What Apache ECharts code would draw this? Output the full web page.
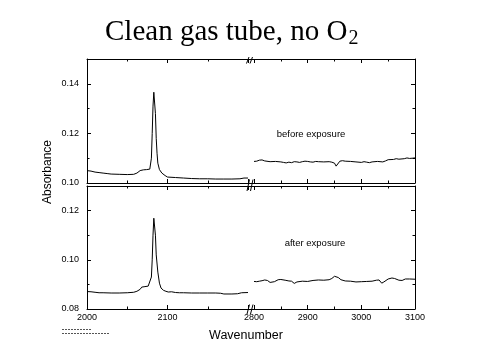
<!DOCTYPE html>
<html><head><meta charset="utf-8">
<script src="https://cdn.jsdelivr.net/npm/echarts@6/dist/echarts.min.js"></script>
<style>html,body{margin:0;padding:0;background:#fff}#c{width:480px;height:360px}</style>
</head><body><div id="c"></div>
<script>
// ---- text ----
const titleMain = 'Clean gas tube, no O';
const titleSub = '2';
const yAxisTitle = 'Absorbance';
const xAxisTitle = 'Wavenumber';
const topNote = 'before exposure';
const bottomNote = 'after exposure';

// ---- axis ranges / ticks ----
const leftRange = [2000, 2200];
const rightRange = [2800, 3100];
const xInterval = 100;
const leftXLabels = [2000, 2100];
const rightXLabels = [2800, 2900, 3000, 3100];
const topYRange = [0.10, 0.15];
const bottomYRange = [0.08, 0.13];
const yInterval = 0.02;

// ---- data: before exposure ----
const tlWave = [2000,2005,2010,2015,2020,2025,2030,2040,2050,2058,2062,2066,2070,2074,2078,2080,2081,2082,2083,2084,2085,2086,2087,2088,2090,2093,2097,2100,2110,2120,2130,2140,2150,2160,2170,2180,2190,2195,2200];
const tlAbs  = [0.1050,0.1048,0.1044,0.1042,0.1040,0.1038,0.1036,0.1035,0.1034,0.1035,0.1040,0.1050,0.1053,0.1054,0.1056,0.1100,0.1200,0.1310,0.1366,0.1362,0.1280,0.1180,0.1120,0.1080,0.1054,0.1040,0.1030,0.1024,0.1022,0.1020,0.1018,0.1017,0.1017,0.1016,0.1016,0.1016,0.1017,0.1020,0.1020];
const trWave = [2800,2805,2810,2815,2820,2830,2840,2850,2855,2860,2865,2870,2875,2880,2885,2890,2895,2900,2905,2910,2915,2920,2930,2940,2945,2950,2953,2956,2960,2965,2970,2980,2990,3000,3005,3010,3015,3020,3030,3040,3045,3050,3060,3065,3070,3080,3085,3090,3095,3100];
const trAbs  = [0.1087,0.1088,0.1092,0.1093,0.1089,0.1086,0.1087,0.1085,0.1083,0.1081,0.1084,0.1082,0.1086,0.1085,0.1083,0.1086,0.1088,0.1087,0.1085,0.1084,0.1087,0.1086,0.1085,0.1086,0.1084,0.1080,0.1068,0.1076,0.1088,0.1090,0.1088,0.1087,0.1085,0.1083,0.1086,0.1084,0.1082,0.1085,0.1087,0.1085,0.1089,0.1094,0.1095,0.1098,0.1096,0.1098,0.1101,0.1099,0.1100,0.1101];

// ---- data: after exposure ----
const blWave = [2000,2005,2010,2015,2020,2030,2040,2050,2058,2062,2066,2068,2072,2076,2078,2080,2081,2082,2083,2084,2085,2086,2088,2090,2092,2095,2098,2101,2105,2110,2115,2120,2130,2140,2150,2160,2166,2170,2180,2187,2192,2200];
const blAbs  = [0.0871,0.0870,0.0868,0.0866,0.0866,0.0865,0.0865,0.0866,0.0868,0.0872,0.0880,0.0889,0.0891,0.0893,0.0897,0.0930,0.1000,0.1100,0.1169,0.1165,0.1100,0.1020,0.0950,0.0905,0.0885,0.0876,0.0872,0.0869,0.0870,0.0867,0.0866,0.0866,0.0865,0.0865,0.0865,0.0865,0.0864,0.0861,0.0861,0.0862,0.0866,0.0867];
const brWave = [2800,2805,2810,2815,2820,2825,2830,2833,2838,2845,2850,2858,2865,2870,2875,2880,2890,2900,2910,2920,2930,2940,2945,2950,2953,2957,2962,2970,2980,2990,3000,3010,3020,3028,3033,3038,3042,3050,3057,3062,3070,3076,3082,3090,3100];
const brAbs  = [0.0912,0.0911,0.0913,0.0915,0.0918,0.0916,0.0908,0.0903,0.0911,0.0919,0.0920,0.0917,0.0914,0.0913,0.0904,0.0910,0.0913,0.0912,0.0916,0.0918,0.0917,0.0919,0.0924,0.0933,0.0936,0.0928,0.0919,0.0914,0.0913,0.0910,0.0911,0.0912,0.0913,0.0917,0.0918,0.0905,0.0910,0.0922,0.0926,0.0924,0.0917,0.0916,0.0922,0.0922,0.0921];

// ---- layout ----
const L = {lx: 87, rx: 254, w: 161, topY: 59, topH: 124, botY: 186, botH: 123};
const INK = '#000';
const tickFont = 'Liberation Sans, Arial, sans-serif';

function pairs(xs, ys) { return xs.map((x, i) => [x, ys[i]]); }

function xAx(grid, range, pos, labels) {
  return {
    gridIndex: grid, type: 'value', position: pos,
    min: range[0], max: range[1], interval: xInterval,
    axisLine: {show: true, lineStyle: {color: INK, width: 1}},
    axisTick: {show: true, inside: true, length: 4, lineStyle: {color: INK}},
    minorTick: {show: true, splitNumber: 2, length: 2.5, lineStyle: {color: INK}},
    splitLine: {show: false}, minorSplitLine: {show: false},
    axisLabel: labels ? {
      show: true, margin: 4, color: INK, fontSize: 9, fontFamily: tickFont,
      formatter: v => labels.includes(Math.round(v)) ? String(Math.round(v)) : ''
    } : {show: false}
  };
}
function yAx(grid, range, pos, showLabels) {
  return {
    gridIndex: grid, type: 'value', position: pos,
    min: range[0], max: range[1], interval: yInterval,
    axisLine: {show: true, lineStyle: {color: INK, width: 1}},
    axisTick: {show: true, inside: true, length: 4, lineStyle: {color: INK}},
    minorTick: {show: true, splitNumber: 2, length: 2.5, lineStyle: {color: INK}},
    splitLine: {show: false}, minorSplitLine: {show: false},
    axisLabel: showLabels ? {
      show: true, margin: 8, color: INK, fontSize: 9, fontFamily: tickFont,
      showMaxLabel: false,
      formatter: v => v.toFixed(2)
    } : {show: false}
  };
}
function lineSeries(xi, yi, data) {
  return {type: 'line', xAxisIndex: xi, yAxisIndex: yi, data: data, symbol: 'none',
    lineStyle: {color: INK, width: 1}, silent: true, clip: true};
}

// measure title for subscript placement
const titleFont = '29px "Liberation Serif", "Times New Roman", serif';
const cv = document.createElement('canvas').getContext('2d');
cv.font = titleFont;
const titleW = cv.measureText(titleMain).width;
const titleLeft = 105;

function hline(x1, x2, y) {
  return {type: 'line', shape: {x1: x1, y1: y, x2: x2, y2: y}, style: {stroke: INK, lineWidth: 1}, silent: true};
}
function slashPair(yb, yt, x0) {
  return [
    {type: 'line', shape: {x1: x0, y1: yb, x2: x0 + 2.5, y2: yt}, style: {stroke: INK, lineWidth: 1}, silent: true},
    {type: 'line', shape: {x1: x0 + 3.5, y1: yb, x2: x0 + 6, y2: yt}, style: {stroke: INK, lineWidth: 1}, silent: true}
  ];
}

const chart = echarts.init(document.getElementById('c'), null, {renderer: 'canvas'});
const gapL = L.lx + L.w, gapR = L.rx;
chart.setOption({
  animation: false,
  backgroundColor: '#fff',
  grid: [
    {left: L.lx, top: L.topY, width: L.w, height: L.topH},
    {left: L.rx, top: L.topY, width: L.w, height: L.topH},
    {left: L.lx, top: L.botY, width: L.w, height: L.botH},
    {left: L.rx, top: L.botY, width: L.w, height: L.botH}
  ],
  xAxis: [
    xAx(0, leftRange, 'bottom', null), xAx(0, leftRange, 'top', null),
    xAx(1, rightRange, 'bottom', null), xAx(1, rightRange, 'top', null),
    xAx(2, leftRange, 'bottom', leftXLabels), xAx(2, leftRange, 'top', null),
    xAx(3, rightRange, 'bottom', rightXLabels), xAx(3, rightRange, 'top', null)
  ],
  yAxis: [
    yAx(0, topYRange, 'left', true),
    yAx(1, topYRange, 'right', false),
    yAx(2, bottomYRange, 'left', true),
    yAx(3, bottomYRange, 'right', false)
  ],
  series: [
    lineSeries(0, 0, pairs(tlWave, tlAbs)),
    lineSeries(2, 1, pairs(trWave, trAbs)),
    lineSeries(4, 2, pairs(blWave, blAbs)),
    lineSeries(6, 3, pairs(brWave, brAbs))
  ],
  graphic: [
    {type: 'text', x: titleLeft, y: 31.9, silent: true,
     style: {text: titleMain, font: titleFont, fill: INK, textAlign: 'left', textVerticalAlign: 'middle'}},
    {type: 'text', x: titleLeft + titleW + 1, y: 38.9, silent: true,
     style: {text: titleSub, font: '20px "Liberation Serif", "Times New Roman", serif', fill: INK, textAlign: 'left', textVerticalAlign: 'middle'}},
    {type: 'text', x: 48, y: 172, rotation: Math.PI / 2, silent: true,
     style: {text: yAxisTitle, font: '12px "Liberation Sans", Arial, sans-serif', fill: INK, textAlign: 'center', textVerticalAlign: 'middle'}},
    {type: 'text', x: 246, y: 336, silent: true,
     style: {text: xAxisTitle, font: '12.5px "Liberation Sans", Arial, sans-serif', fill: INK, textAlign: 'center', textVerticalAlign: 'middle'}},
    {type: 'text', x: 311, y: 134, silent: true,
     style: {text: topNote, font: '9.5px "Liberation Sans", Arial, sans-serif', fill: INK, textAlign: 'center', textVerticalAlign: 'middle'}},
    {type: 'text', x: 315, y: 243.5, silent: true,
     style: {text: bottomNote, font: '9.5px "Liberation Sans", Arial, sans-serif', fill: INK, textAlign: 'center', textVerticalAlign: 'middle'}},
    hline(gapL, gapR, L.topY + 0.5),
    hline(gapL, gapR, L.topY + L.topH + 0.5),
    hline(gapL, gapR, L.botY + 0.5),
    hline(gapL, gapR, L.botY + L.botH + 0.5),
    ...slashPair(63.5, 57, 246.5),
    ...slashPair(191, 179.5, 247),
    ...slashPair(314, 304.5, 247),
    {type: 'line', shape: {x1: 62, y1: 329.5, x2: 92, y2: 329.5}, style: {stroke: '#555', lineWidth: 1, lineDash: [2, 1]}, silent: true},
    {type: 'line', shape: {x1: 62, y1: 333.5, x2: 110, y2: 333.5}, style: {stroke: '#555', lineWidth: 1, lineDash: [2, 1]}, silent: true}
  ]
});
</script></body></html>
